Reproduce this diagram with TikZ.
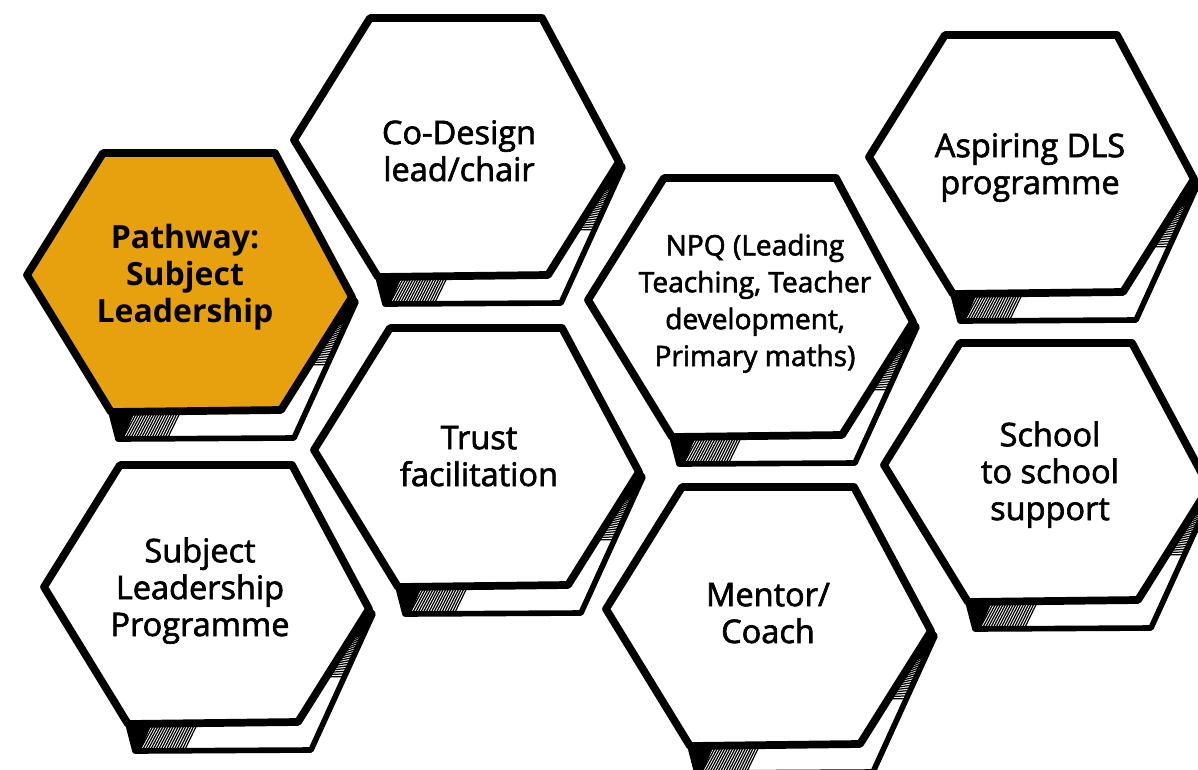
\documentclass[tikz,border=0pt]{standalone}
\usepackage{fontspec}
\setmainfont{Open Sans}
\newfontfamily\semibold{Open Sans}[FakeBold=2]
\usetikzlibrary{calc}

\definecolor{pathorange}{RGB}{231,161,14}

\tikzset{
  front/.style={line width=4.4pt, line join=round},
  back/.style={line width=3.2pt, line join=round, fill=white},
  hatch/.style={line width=0.7pt},
  cell text/.style={font=\semibold\fontsize{18.5}{21}\selectfont, align=center, anchor=base},
}

\begin{document}
\begin{tikzpicture}[x=0.02cm, y=-0.02cm]
\useasboundingbox (0,0) rectangle (1198,769);

% Helper: one hexagon with its shaded underside: name, centre x, centre y, fill
\newcommand{\hexcell}[4]{%
  \coordinate (#1-tl) at (#2-86,#3-130);
  \coordinate (#1-tr) at (#2+86,#3-130);
  \coordinate (#1-r)  at (#2+163,#3+14);
  \coordinate (#1-br) at (#2+92,#3+127);
  \coordinate (#1-bl) at (#2-78,#3+129);
  \coordinate (#1-l)  at (#2-162,#3-8);
  \coordinate (#1-rb)  at ($(#1-r)+(4,5)$);
  \coordinate (#1-brb) at ($(#1-br)+(13,28)$);
  \coordinate (#1-blb) at ($(#1-bl)+(7,27)$);
  \draw[back] (#1-r) -- (#1-rb) -- (#1-brb) -- (#1-blb) -- (#1-bl) -- (#1-br) -- cycle;
  % shading on the right side
  \fill (#1-r) -- ($(#1-r)!0.26!(#1-br)$) -- ($(#1-rb)!0.16!(#1-brb)$) -- (#1-rb) -- cycle;
  \foreach \t [evaluate=\t as \s using \t-0.14] in {0.26,0.28,...,0.62}
    \draw[hatch] ($(#1-r)!\t!(#1-br)$) -- ($(#1-rb)!\s!(#1-brb)$);
  % shading underneath
  \fill (#1-bl) -- ($(#1-bl)!0.14!(#1-br)$) -- ($(#1-blb)!0.03!(#1-brb)$) -- (#1-blb) -- cycle;
  \foreach \t [evaluate=\t as \s using \t-0.13] in {0.14,0.155,...,0.42}
    \draw[hatch] ($(#1-bl)!\t!(#1-br)$) -- ($(#1-blb)!\s!(#1-brb)$);
  \draw[front, fill=#4] (#1-tl) -- (#1-tr) -- (#1-r) -- (#1-br) -- (#1-bl) -- (#1-l) -- cycle;
}

% left column
\hexcell{pathway}{189}{283}{pathorange}
\hexcell{slp}{206}{595}{white}
% second column
\hexcell{codesign}{456}{148}{white}
\hexcell{trust}{476}{458}{white}
% third column
\hexcell{npq}{750}{308}{white}
\hexcell{mentor}{768}{617}{white}
% right column
\hexcell{aspiring}{1031}{165}{white}
\hexcell{school}{1046}{473}{white}

% labels (base = last line)
\node[cell text, font=\bfseries\fontsize{18.2}{21}\selectfont] (pathway-text) at (185,322) {Pathway:\\Subject\\Leadership};
\node[cell text] (slp-text) at (200,636) {Subject\\Leadership\\Programme};
\node[cell text] (codesign-text) at (459,181) {Co-Design\\lead/chair};
\node[cell text] (trust-text) at (479,486) {Trust\\facilitation};
\node[cell text, font=\semibold\fontsize{16}{21}\selectfont] (npq-text) at (755,366) {NPQ (Leading\\Teaching, Teacher\\development,\\Primary maths)};
\node[cell text] (mentor-text) at (768,643) {Mentor/\\Coach};
\node[cell text] (aspiring-text) at (1030,194) {Aspiring DLS\\programme};
\node[cell text] (school-text) at (1050,520) {School\\to school\\support};

\end{tikzpicture}
\end{document}
